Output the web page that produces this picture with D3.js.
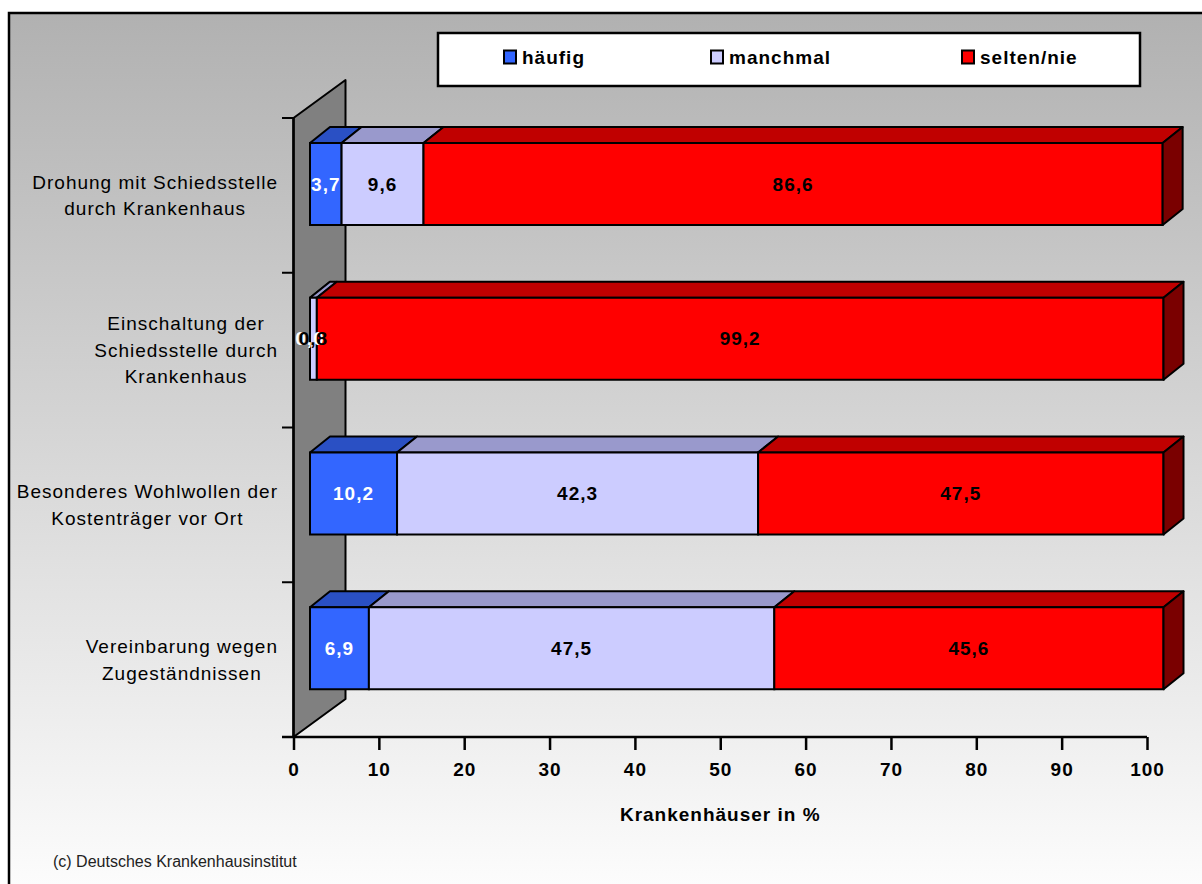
<!DOCTYPE html>
<html><head><meta charset="utf-8">
<script src="https://cdn.jsdelivr.net/npm/d3@7"></script>
<style>
html,body{margin:0;padding:0;background:#fff;}
svg{display:block;font-family:"Liberation Sans",Arial,sans-serif;}
</style></head>
<body>
<svg id="chart" width="1202" height="884"></svg>
<script>
// ---- data ----
const categories = [
  "Drohung mit Schiedsstelle\ndurch Krankenhaus",
  "Einschaltung der\nSchiedsstelle durch\nKrankenhaus",
  "Besonderes Wohlwollen der\nKostenträger vor Ort",
  "Vereinbarung wegen\nZugeständnissen"
];
const seriesNames = ["häufig", "manchmal", "selten/nie"];
const haeufig  = [3.7, 0.0, 10.2, 6.9];
const manchmal = [9.6, 0.8, 42.3, 47.5];
const selten   = [86.6, 99.2, 47.5, 45.6];
const xTicks = [0,10,20,30,40,50,60,70,80,90,100];
const axisTitle = "Krankenhäuser in %";
const footer = "(c) Deutsches Krankenhausinstitut";

// ---- styles ----
const front = ["#3366FF", "#CCCCFF", "#FF0000"];
const top_  = ["#2A50C4", "#9999CC", "#C00000"];
const sideC = ["#1E3A8F", "#777799", "#7A0000"];
const labelColor = ["#ffffff", "#000000", "#000000"];

const svg = d3.select("#chart");
const defs = svg.append("defs");
const grad = defs.append("linearGradient").attr("id","bg").attr("x1",0).attr("y1",0).attr("x2",0).attr("y2",1);
grad.append("stop").attr("offset","0%").attr("stop-color","#b1b1b1");
grad.append("stop").attr("offset","100%").attr("stop-color","#fdfdfd");

// outer frame
svg.append("rect").attr("x",9).attr("y",13).attr("width",1202).attr("height",884)
  .attr("fill","url(#bg)").attr("stroke","#000").attr("stroke-width",2.5);

// scales
const x = d3.scaleLinear().domain([0,100]).range([293.5,1147]);
const y = d3.scaleBand().domain(categories).range([118,737]).padding(0);

const wallDx = 52, wallDy = -38;
const barDx = 20, barDy = -16;
const barOffX = 16.5;
const barTop = 25, barH = 82;

// wall
const x0 = x(0), yT = y.range()[0], yB = y.range()[1];
svg.append("polygon")
  .attr("points", [[x0,yT],[x0+wallDx,yT+wallDy],[x0+wallDx,yB+wallDy],[x0,yB]].map(p=>p.join(",")).join(" "))
  .attr("fill","#808080").attr("stroke","#000").attr("stroke-width",2).attr("stroke-linejoin","round");

// left axis ticks at band edges
const edges = categories.map(c=>y(c)).concat([yB]);
svg.append("g").selectAll("line").data(edges).join("line")
  .attr("x1",282).attr("x2",x0).attr("y1",d=>d).attr("y2",d=>d)
  .attr("stroke","#000").attr("stroke-width",2);
svg.append("line").attr("x1",x0).attr("x2",x0).attr("y1",yT).attr("y2",yB)
  .attr("stroke","#000").attr("stroke-width",2.5);

// bottom axis
const xAxis = d3.axisBottom(x).tickValues(xTicks).tickSize(13).tickPadding(6)
  .tickFormat(d=>d).tickSizeOuter(0);
const gx = svg.append("g").attr("transform",`translate(0,${yB})`).call(xAxis);
gx.select(".domain").remove();
gx.selectAll(".tick line").attr("stroke","#000").attr("stroke-width",2.5);
gx.selectAll(".tick text").attr("fill","#000").attr("font-size",19).attr("font-weight","bold")
  .attr("letter-spacing","1px").attr("font-family","Liberation Sans, Arial, sans-serif")
  .attr("dy","1.05em");
svg.append("line").attr("x1",282).attr("x2",x(100)).attr("y1",yB).attr("y2",yB)
  .attr("stroke","#000").attr("stroke-width",2.5);

svg.append("text").attr("x",(x(0)+x(100))/2).attr("y",821).attr("text-anchor","middle")
  .attr("font-size",19).attr("font-weight","bold").attr("letter-spacing","1px").text(axisTitle);

// stacked data
const series = [haeufig, manchmal, selten];
const rows = categories.map((c,i)=>{
  let acc = 0;
  return series.map((s,k)=>{ const a = acc; acc += s[i]; return {cat:c, k, v:s[i], a, b:acc, last:k===2}; });
});

const gBars = svg.append("g");
rows.forEach(row=>{
  const g = gBars.append("g");
  row.forEach(d=>{
    const xa = x(d.a)+barOffX - x0 + x0, xb = x(d.b)+barOffX;
    const xaa = x(d.a)+barOffX;
    const yt = y(d.cat)+barTop, yb = yt+barH;
    // top face
    g.append("polygon")
      .attr("points",[[xaa,yt],[xaa+barDx,yt+barDy],[xb+barDx,yt+barDy],[xb,yt]].map(p=>p.join(",")).join(" "))
      .attr("fill",top_[d.k]).attr("stroke","#000").attr("stroke-width",2).attr("stroke-linejoin","round");
    // front face
    g.append("rect").attr("x",xaa).attr("y",yt).attr("width",Math.max(0,xb-xaa)).attr("height",barH)
      .attr("fill",front[d.k]).attr("stroke","#000").attr("stroke-width",2);
    if (d.last) {
      g.append("polygon")
        .attr("points",[[xb,yt],[xb+barDx,yt+barDy],[xb+barDx,yb+barDy],[xb,yb]].map(p=>p.join(",")).join(" "))
        .attr("fill",sideC[d.k]).attr("stroke","#000").attr("stroke-width",2).attr("stroke-linejoin","round");
    }
  });
});
// value labels
rows.forEach(row=>{
  row.forEach(d=>{
    const cx = (x(d.a)+x(d.b))/2 + barOffX;
    const cy = y(d.cat)+barTop+barH/2;
    svg.append("text").attr("x",cx).attr("y",cy).attr("dy","0.35em").attr("text-anchor","middle")
      .attr("font-size",19).attr("font-weight","bold").attr("letter-spacing","1px")
      .attr("fill",labelColor[d.k]).text(d3.format(".1f")(d.v).replace(".",","));
  });
});

// category labels
const lineH = 26.5, rightEdge = 278;
categories.forEach(c=>{
  const lines = c.split("\n");
  const g = svg.append("g");
  const t = g.append("text").attr("font-size",19).attr("letter-spacing","1px").attr("fill","#000")
    .attr("text-anchor","middle");
  const cy = y(c)+y.bandwidth()/2;
  const ts = lines.map((ln,i)=> t.append("tspan").attr("y", cy + (i-(lines.length-1)/2)*lineH).attr("dy","0.35em").text(ln));
  const maxW = d3.max(ts, s=>s.node().getComputedTextLength());
  ts.forEach(s=>s.attr("x", rightEdge - maxW/2));
});

// legend
svg.append("rect").attr("x",438).attr("y",33).attr("width",702).attr("height",53)
  .attr("fill","#fff").attr("stroke","#000").attr("stroke-width",2.5);
const legX = [504, 711, 962];
seriesNames.forEach((n,i)=>{
  svg.append("rect").attr("x",legX[i]).attr("y",50.5).attr("width",12).attr("height",13)
    .attr("fill",front[i]).attr("stroke","#000").attr("stroke-width",2);
  svg.append("text").attr("x",legX[i]+18).attr("y",64).attr("font-size",19).attr("font-weight","bold")
    .attr("letter-spacing","1px").text(n);
});

// footer
svg.append("text").attr("x",53).attr("y",867).attr("font-size",16).attr("fill","#222").text(footer);
</script>
</body></html>
